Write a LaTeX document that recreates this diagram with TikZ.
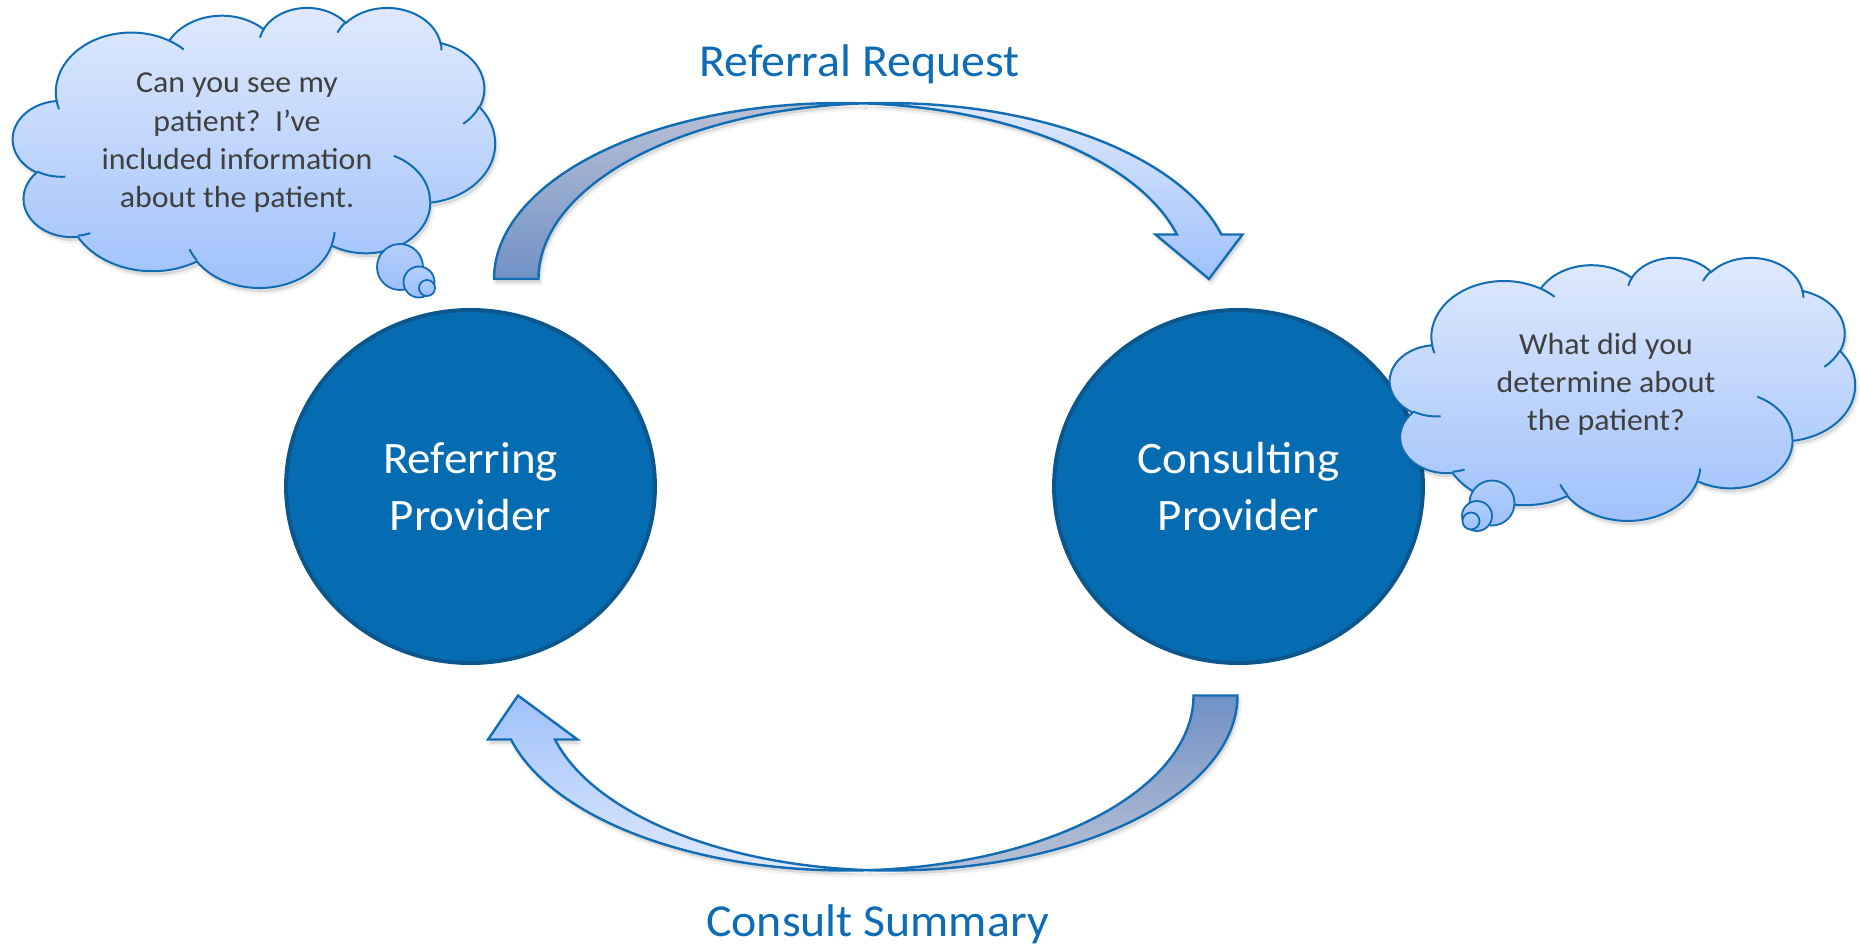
\documentclass[tikz,border=0pt]{standalone}
\usepackage{fontspec}
\setmainfont{Carlito}
\usetikzlibrary{shapes.geometric}
\definecolor{circfill}{RGB}{6,108,178}
\definecolor{circline}{RGB}{12,86,142}
\definecolor{titleblue}{RGB}{14,108,182}
\definecolor{edgeblue}{RGB}{18,108,180}
\definecolor{lighttop}{RGB}{224,234,253}
\definecolor{lightbot}{RGB}{158,193,250}
\definecolor{darktop}{RGB}{186,194,212}
\definecolor{darkbot}{RGB}{112,145,198}
\definecolor{cloudtext}{RGB}{64,64,64}
\definecolor{bubbletop}{RGB}{178,206,251}
\definecolor{bubblebot}{RGB}{156,192,250}

\newcommand{\cloudoutline}{(39.00,143.70)
 arc[start angle=-187.745, delta angle=128.105, x radius=67.53, y radius=91.90]
 arc[start angle=-152.04, delta angle=106.58, x radius=53.33, y radius=72.67]
 arc[start angle=-153.49, delta angle=116.14, x radius=43.65, y radius=59.45]
 arc[start angle=-139.72, delta angle=129.51, x radius=48.57, y radius=65.95]
 arc[start angle=-74.77, delta angle=97.98, x radius=53.33, y radius=72.73]
 arc[start angle=-37.55, delta angle=119.41, x radius=67.75, y radius=92.20]
 arc[start angle=0.46, delta angle=121.52, x radius=57.85, y radius=78.67]
 arc[start angle=16.84, delta angle=129.38, x radius=67.52, y radius=92.15]
 arc[start angle=58.98, delta angle=91.21, x radius=77.20, y radius=105.43]
 arc[start angle=-276.69, delta angle=139.81, x radius=43.60, y radius=59.18]
 arc[start angle=-239.64, delta angle=143.75, x radius=43.45, y radius=59.45]
 -- cycle}
\newcommand{\cloudinner}{
 (46.93,261.77) arc[start angle=85.546, delta angle=34.81, x radius=43.45, y radius=59.45]
 (69.28,348.99) arc[start angle=68.24, delta angle=15.07, x radius=43.60, y radius=59.18]
 (164.78,390.90) arc[start angle=146.22, delta angle=12.25, x radius=67.52, y radius=92.15]
 (288.27,347.51) arc[start angle=4.738, delta angle=12.10, x radius=67.52, y radius=92.15]
 (341.29,229.54) arc[start angle=-64.03, delta angle=64.49, x radius=57.85, y radius=78.67]
 (417.98,153.54) arc[start angle=23.21, delta angle=26.44, x radius=53.33, y radius=72.73]
 (383.24,54.26) arc[start angle=-10.21, delta angle=11.03, x radius=48.57, y radius=65.95]
 (290.78,39.52) arc[start angle=-156.29, delta angle=16.57, x radius=48.57, y radius=65.95]
 (221.41,47.20) arc[start angle=-167.73, delta angle=14.24, x radius=43.65, y radius=59.45]
 (140.00,51.92) arc[start angle=-59.64, delta angle=13.90, x radius=67.53, y radius=91.90]
 (41.27,157.89) arc[start angle=163.19, delta angle=9.06, x radius=67.53, y radius=91.90]}

% top curved arrow: back (dark) and front (light) faces
\newcommand{\topback}{(494,279)
  arc[start angle=-180, delta angle=93.675, x radius=347.1, y radius=176]
  arc[start angle=-93.675, delta angle=-86.325, x radius=347.1, y radius=176]
  -- cycle}
\newcommand{\topfront}{(863.35,103.36)
  arc[start angle=-93.675, delta angle=79.03, x radius=347.1, y radius=176]
  -- (1242.5,234.5) -- (1209,279) -- (1155.5,234.5) -- (1176.92,234.5)
  arc[start angle=-14.645, delta angle=-71.68, x radius=347.1, y radius=176]
  -- cycle}
% bottom curved arrow
\newcommand{\botback}{(1237.5,695.5)
  arc[start angle=0, delta angle=93.637, x radius=346.82, y radius=175]
  arc[start angle=86.363, delta angle=-86.363, x radius=346.82, y radius=175]
  -- cycle}
\newcommand{\botfront}{(868.68,870.15)
  arc[start angle=86.363, delta angle=79.074, x radius=346.82, y radius=175]
  -- (488,739.5) -- (518,695.5) -- (577.5,739.5) -- (555.0,739.5)
  arc[start angle=165.437, delta angle=-71.8, x radius=346.82, y radius=175]
  -- cycle}

\tikzset{
  provider/.style={circle, minimum size=353pt, inner sep=0pt, xscale=1.045,
    fill=circfill, draw=circline, line width=4pt, text=white, align=center,
    font=\fontsize{45}{57}\selectfont},
  flowtitle/.style={text=titleblue, anchor=base, inner sep=0pt, xscale=1.045,
    font=\fontsize{45.8}{55}\selectfont},
  thought/.style={text=cloudtext, align=center, inner sep=0pt, xscale=1.045,
    font=\fontsize{30.5}{38.3}\selectfont},
  cloudfill/.style={top color=lighttop, bottom color=lightbot},
  cloudedge/.style={draw=edgeblue, line width=2pt},
  bubble/.style={top color=bubbletop, bottom color=bubblebot, draw=edgeblue, line width=1.8pt},
  bandedge/.style={draw=edgeblue, line width=2.4pt, line join=miter},
  darkup/.style={top color=darktop, bottom color=darkbot},
  darkdown/.style={top color=darkbot, bottom color=darktop},
  lightup/.style={top color=lighttop, bottom color=lightbot},
  lightdown/.style={top color=lightbot, bottom color=lighttop},
  softshadow/.style={fill=black, fill opacity=0.10, draw=black, draw opacity=0.05,
    line width=5pt, line join=round},
}

\begin{document}
\begin{tikzpicture}[x=1pt, y=-1pt]
\useasboundingbox (0,0) rectangle (1860,951);

% providers
\node[provider] (referring) at (470.5,486.5) {Referring\\Provider};
\node[provider] (consulting) at (1238.5,486.5) {Consulting\\Provider};

% titles
\node[flowtitle] (request) at (859.5,76) {Referral Request};
\node[flowtitle] (summary) at (877.5,936) {Consult Summary};

% soft shadows of the curved arrows
\begin{scope}[shift={(2,4)}]
  \path[softshadow] \topback;
  \path[softshadow] \topfront;
  \path[softshadow] \botback;
  \path[softshadow] \botfront;
\end{scope}

% top curved arrow (Referral Request)
\shade[darkup, bandedge] \topback;
\shade[lightup, bandedge] \topfront;

% bottom curved arrow (Consult Summary)
\shade[darkdown, bandedge] \botback;
\shade[lightdown, bandedge] \botfront;

% left thought cloud
\begin{scope}[shift={(15,11)}, xscale=1.11574, yscale=0.64815]
  \path[softshadow] \cloudoutline;
\end{scope}
\begin{scope}[shift={(13,7)}, xscale=1.11574, yscale=0.64815]
  \shade[cloudfill, cloudedge] \cloudoutline;
  \draw[cloudedge] \cloudinner;
\end{scope}
\shade[bubble] (400,267) circle[radius=23];
\shade[bubble] (419,282) circle[radius=15.5];
\shade[bubble] (427,288) circle[radius=8];
\node[thought] (askreferral) at (237,143)
  {Can you see my\\patient?\ \ I’ve\\included information\\about the patient.};

% right thought cloud
\begin{scope}[shift={(1392,261)}, xscale=1.07639, yscale=0.60880]
  \path[softshadow] \cloudoutline;
\end{scope}
\begin{scope}[shift={(1390,257)}, xscale=1.07639, yscale=0.60880]
  \shade[cloudfill, cloudedge] \cloudoutline;
  \draw[cloudedge] \cloudinner;
\end{scope}
\shade[bubble] (1492,503) circle[radius=22.5];
\shade[bubble] (1477,516) circle[radius=15];
\shade[bubble] (1471,521) circle[radius=8.5];
\node[thought] (asksummary) at (1606,384.5)
  {What did you\\determine about\\the patient?};
\end{tikzpicture}
\end{document}
